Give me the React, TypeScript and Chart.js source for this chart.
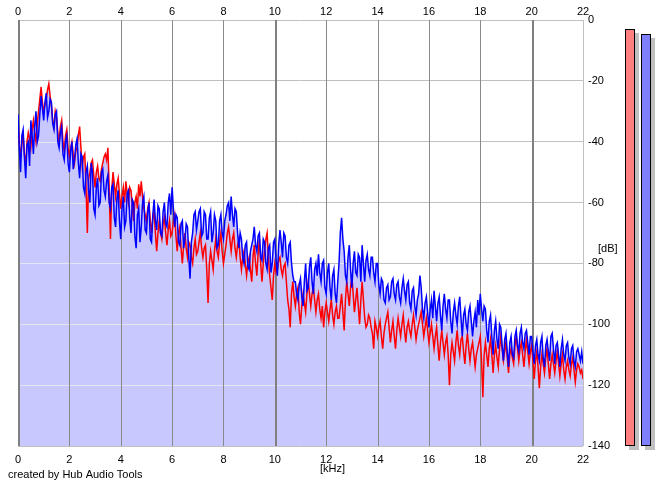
import React, { useEffect, useRef } from "react";
import { Chart, registerables } from "chart.js";

Chart.register(...registerables);

// Frequency bins (kHz) — 0.05 kHz spacing across 0..22 kHz
const FREQ_KHZ: number[] = Array.from({ length: 441 }, (_, i) => i / 20);

// Right channel (blue) level in dB (20 values per kHz)
const BLUE_DB: number[] = [
  -31, -42, -50, -38, -36, -45, -52, -41, -40, -48, -33, -38, -44, -35, -30, -40, -38, -31, -25, -29,
  -33, -27, -24, -32, -30, -26, -27, -34, -36, -31, -30, -40, -42, -37, -35, -44, -46, -40, -38, -47,
  -50, -43, -40, -49, -46, -41, -39, -47, -52, -44, -45, -55, -57, -50, -48, -56, -60, -47, -50, -62,
  -64, -55, -52, -61, -60, -50, -49, -56, -58, -53, -51, -60, -62, -55, -54, -65, -68, -59, -56, -66,
  -72, -62, -58, -68, -66, -57, -56, -65, -70, -59, -60, -71, -75, -64, -62, -73, -68, -60, -58, -69,
  -70, -63, -60, -72, -73, -64, -59, -66, -69, -61, -62, -70, -71, -63, -60, -67, -68, -60, -57, -64,
  -55, -62, -68, -64, -65, -73, -74, -67, -66, -75, -72, -67, -68, -78, -85, -73, -70, -64, -63, -69,
  -66, -63, -62, -71, -70, -63, -64, -72, -72, -65, -63, -73, -70, -64, -66, -75, -74, -66, -64, -70,
  -72, -66, -64, -61, -60, -66, -58, -64, -68, -62, -63, -70, -75, -70, -72, -78, -80, -74, -73, -81,
  -82, -76, -74, -72, -68, -74, -76, -71, -70, -78, -79, -72, -73, -80, -82, -75, -74, -83, -80, -73,
  -72, -79, -84, -74, -69, -73, -78, -70, -71, -78, -80, -74, -73, -80, -84, -86, -86, -90, -92, -87,
  -85, -91, -94, -86, -80, -89, -88, -81, -78, -86, -90, -82, -80, -84, -77, -83, -86, -80, -79, -88,
  -90, -83, -80, -88, -92, -84, -82, -90, -93, -86, -80, -70, -65, -72, -76, -84, -86, -78, -74, -82,
  -88, -80, -76, -83, -84, -77, -78, -86, -74, -80, -86, -79, -77, -82, -84, -78, -78, -83, -86, -80,
  -80, -87, -90, -85, -86, -92, -93, -88, -87, -92, -91, -86, -85, -90, -92, -87, -86, -91, -93, -88,
  -85, -89, -92, -87, -86, -93, -95, -89, -88, -94, -97, -92, -90, -84, -88, -95, -98, -93, -91, -96,
  -101, -95, -92, -98, -89, -94, -99, -93, -91, -97, -102, -94, -90, -95, -98, -92, -92, -99, -103, -96,
  -93, -97, -100, -94, -91, -98, -104, -97, -95, -100, -102, -96, -94, -99, -104, -99, -96, -101, -92, -97,
  -90, -95, -99, -94, -95, -102, -106, -99, -97, -104, -110, -102, -99, -105, -108, -100, -101, -107, -112, -105,
  -103, -109, -114, -106, -104, -110, -111, -104, -102, -107, -109, -103, -101, -106, -108, -103, -102, -106, -110, -104,
  -104, -109, -113, -107, -105, -110, -112, -106, -104, -111, -114, -107, -105, -109, -112, -104, -103, -108, -113, -107,
  -106, -110, -114, -108, -105, -110, -112, -107, -106, -111, -113, -108, -107, -112, -114, -109, -108, -110, -112, -109,
  -113,
];

// Left channel (red) level in dB (20 values per kHz)
const RED_DB: number[] = [
  -34, -40, -45, -41, -38, -44, -48, -40, -37, -39, -42, -36, -33, -37, -40, -34, -30, -26, -22, -27,
  -30, -28, -26, -23, -21, -25, -28, -33, -35, -30, -32, -37, -40, -35, -33, -40, -43, -38, -36, -42,
  -45, -42, -40, -44, -47, -43, -42, -38, -35, -42, -48, -45, -44, -55, -70, -52, -50, -47, -46, -51,
  -55, -50, -48, -52, -53, -49, -47, -45, -44, -46, -42, -55, -72, -56, -50, -54, -58, -54, -52, -57,
  -62, -58, -55, -60, -53, -57, -60, -55, -56, -61, -66, -60, -58, -62, -54, -58, -53, -58, -62, -64,
  -66, -62, -60, -66, -70, -65, -63, -70, -76, -70, -66, -70, -72, -67, -65, -70, -74, -69, -66, -71,
  -70, -66, -64, -71, -76, -70, -68, -75, -80, -74, -70, -75, -78, -73, -74, -78, -80, -75, -72, -77,
  -76, -73, -70, -75, -78, -75, -74, -82, -93, -80, -76, -79, -82, -76, -72, -76, -78, -73, -70, -76,
  -80, -77, -74, -70, -68, -72, -76, -72, -70, -75, -78, -74, -72, -78, -82, -78, -76, -80, -84, -80,
  -78, -82, -86, -78, -74, -80, -84, -77, -72, -80, -86, -80, -76, -72, -70, -78, -84, -88, -92, -84,
  -80, -83, -82, -79, -78, -82, -84, -81, -80, -86, -92, -95, -101, -90, -86, -91, -94, -90, -88, -96,
  -100, -94, -90, -93, -96, -90, -86, -90, -94, -90, -88, -92, -96, -92, -90, -95, -98, -94, -101, -96,
  -93, -96, -99, -95, -92, -97, -100, -96, -94, -98, -98, -94, -90, -96, -102, -92, -86, -90, -94, -88,
  -84, -90, -96, -92, -88, -94, -100, -92, -86, -92, -98, -101, -100, -97, -98, -101, -103, -108, -99, -101,
  -104, -101, -99, -104, -108, -103, -100, -98, -96, -101, -106, -102, -99, -104, -108, -102, -98, -101, -104, -100,
  -97, -102, -106, -101, -99, -102, -104, -100, -97, -101, -105, -102, -100, -98, -96, -100, -104, -101, -98, -102,
  -106, -103, -100, -104, -108, -104, -101, -107, -112, -106, -102, -106, -110, -106, -104, -110, -120, -110, -106, -109,
  -112, -106, -102, -107, -110, -105, -104, -109, -113, -107, -103, -108, -112, -108, -106, -110, -114, -110, -108, -106,
  -104, -112, -124, -110, -106, -110, -114, -108, -105, -110, -116, -110, -107, -111, -114, -108, -104, -108, -112, -109,
  -106, -111, -116, -110, -108, -111, -113, -107, -104, -108, -112, -108, -106, -110, -114, -109, -105, -109, -113, -109,
  -107, -112, -118, -112, -109, -114, -121, -114, -110, -113, -116, -111, -108, -113, -118, -113, -110, -113, -116, -112,
  -109, -113, -117, -113, -110, -115, -118, -114, -112, -115, -117, -113, -111, -115, -119, -115, -113, -114, -116, -115,
  -118,
];

// Peak meters (left = red, right = blue), in dB
const METER_DB: number[] = [-3, -4.6];

const X_TICKS: number[] = [0, 2, 4, 6, 8, 10, 12, 14, 16, 18, 20, 22];
const Y_TICKS: number[] = [0, -20, -40, -60, -80, -100, -120, -140];

const FONT = "'Liberation Sans', Arial, sans-serif";

const decorPlugin = {
  id: "spectrumDecor",
  afterDatasetDraw(chart: any, args: any) {
    if (args.index !== 2) return;
    const { ctx, chartArea, scales } = chart;
    const pts = chart.getDatasetMeta(2).data;
    // light horizontal grid lines visible through the fill
    ctx.save();
    ctx.beginPath();
    ctx.moveTo(pts[0].x, chartArea.bottom);
    pts.forEach((p: any) => ctx.lineTo(p.x, p.y));
    ctx.lineTo(pts[pts.length - 1].x, chartArea.bottom);
    ctx.closePath();
    ctx.clip();
    ctx.strokeStyle = "#e6e6f2";
    ctx.lineWidth = 1;
    for (const v of Y_TICKS) {
      const y = Math.round(scales.y.getPixelForValue(v)) + 0.5;
      ctx.beginPath();
      ctx.moveTo(chartArea.left, y);
      ctx.lineTo(chartArea.right, y);
      ctx.stroke();
    }
    ctx.restore();
    // vertical grid lines
    ctx.save();
    for (const v of X_TICKS) {
      const px = scales.x.getPixelForValue(v);
      let w = 1;
      let c = "#8a8a8a";
      if (v === 22) c = "#c0c0c0";
      else if (v % 10 === 0) {
        w = 2;
        c = "#808080";
      }
      const x = w === 2 ? Math.round(px) + 1 : Math.round(px) + 0.5;
      ctx.strokeStyle = c;
      ctx.lineWidth = w;
      ctx.beginPath();
      ctx.moveTo(x, chartArea.top);
      ctx.lineTo(x, chartArea.bottom);
      ctx.stroke();
    }
    ctx.restore();
  },
  afterDraw(chart: any) {
    const { ctx, scales } = chart;
    const yS = scales.y;
    ctx.save();
    // meters
    const meterX = [625, 641];
    const colors = ["#ff8080", "#8080ff"];
    const base = yS.getPixelForValue(-140);
    METER_DB.forEach((v, i) => {
      const top = Math.round(yS.getPixelForValue(v));
      const x = meterX[i];
      ctx.fillStyle = "#c0c0c0";
      ctx.fillRect(x + 4, top + 4, 10, base - top);
      ctx.fillStyle = colors[i];
      ctx.fillRect(x, top, 10, base - top);
      ctx.strokeStyle = "#000000";
      ctx.lineWidth = 1;
      ctx.strokeRect(x + 0.5, top + 0.5, 9, base - top - 1);
    });
    // texts
    ctx.fillStyle = "#000000";
    ctx.font = `11px ${FONT}`;
    ctx.textBaseline = "middle";
    ctx.textAlign = "left";
    ctx.fillText("[dB]", 598, 249);
    ctx.fillText("[kHz]", 320, 469);
    ctx.fillText("created by Hub Audio Tools", 8, 475);
    ctx.restore();
  },
};

export default function App() {
  const ref = useRef<HTMLCanvasElement>(null);

  useEffect(() => {
    if (!ref.current) return;
    Chart.defaults.font.family = FONT;
    Chart.defaults.font.size = 11;
    Chart.defaults.color = "#000000";
    const envelope = BLUE_DB.map((b, i) => Math.max(b, RED_DB[i]));
    const pts = (arr: number[]) => arr.map((v, i) => ({ x: FREQ_KHZ[i], y: v }));
    const chart = new Chart(ref.current, {
      type: "line",
      data: {
        datasets: [
          {
            label: "Right",
            data: pts(BLUE_DB),
            borderColor: "#0000ff",
            borderWidth: 1.5,
            pointRadius: 0,
            tension: 0,
            fill: false,
          },
          {
            label: "Left",
            data: pts(RED_DB),
            borderColor: "#ff0000",
            borderWidth: 1.5,
            pointRadius: 0,
            tension: 0,
            fill: false,
          },
          {
            label: "Envelope",
            data: pts(envelope),
            borderColor: "rgba(0,0,0,0)",
            borderWidth: 0,
            backgroundColor: "rgb(200,200,255)",
            pointRadius: 0,
            tension: 0,
            fill: "start",
          },
        ],
      },
      options: {
        animation: false,
        responsive: false,
        devicePixelRatio: 1,
        layout: { padding: { left: 18, right: 0, top: 0, bottom: 0 } },
        plugins: { legend: { display: false }, tooltip: { enabled: false } },
        scales: {
          x: {
            type: "linear",
            position: "bottom",
            min: 0,
            max: 22,
            grid: { display: false },
            border: { display: false },
            ticks: {
              stepSize: 2,
              autoSkip: false,
              maxRotation: 0,
              padding: -1,
              color: "#000000",
            },
            afterFit: (s: any) => {
              s.height = 41;
            },
          },
          xTop: {
            type: "linear",
            position: "top",
            min: 0,
            max: 22,
            grid: { display: false },
            border: { display: false },
            ticks: {
              stepSize: 2,
              autoSkip: false,
              maxRotation: 0,
              padding: -7,
              color: "#000000",
            },
            afterFit: (s: any) => {
              s.height = 20;
            },
          },
          y: {
            type: "linear",
            position: "right",
            min: -140,
            max: 0,
            grid: { color: "#c0c0c0", lineWidth: 1, drawTicks: false },
            border: { display: false },
            ticks: { stepSize: 20, padding: 5, color: "#000000" },
            afterFit: (s: any) => {
              s.width = 82;
            },
          },
        },
      },
      plugins: [decorPlugin],
    });
    return () => chart.destroy();
  }, []);

  return (
    <div style={{ position: "absolute", left: 0, top: 0, width: 665, height: 487, background: "#ffffff" }}>
      <canvas ref={ref} width={665} height={487} />
    </div>
  );
}
